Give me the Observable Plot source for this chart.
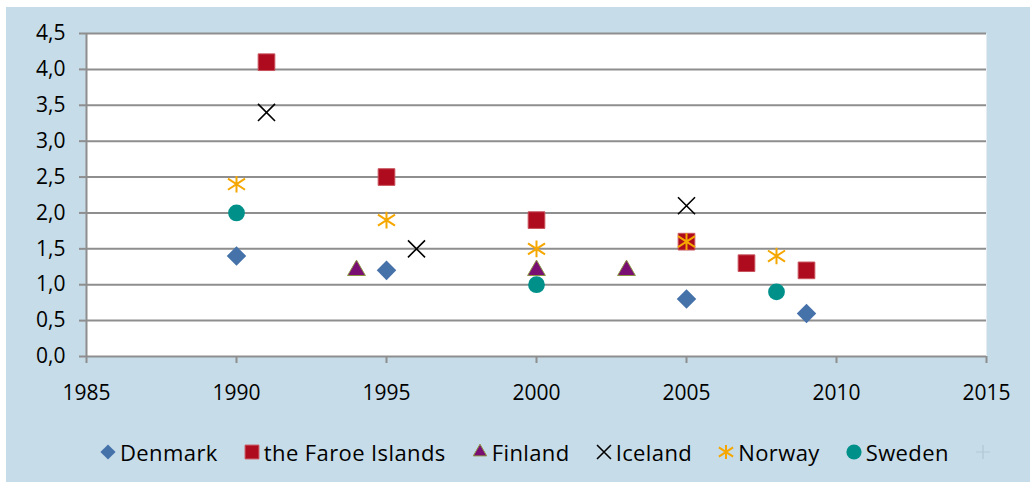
<!DOCTYPE html>
<html><head><meta charset="utf-8">
<script src="https://cdn.jsdelivr.net/npm/d3@7"></script>
<script src="https://cdn.jsdelivr.net/npm/@observablehq/plot@0.6"></script>
<style>
html,body{margin:0;padding:0;background:#fff;}
#box{position:absolute;left:6px;top:7px;width:1024px;height:475px;background:#c6dce8;font-family:"Open Sans",sans-serif;overflow:hidden;}
#chart{position:absolute;left:0;top:0;}
#legend{position:absolute;left:94px;top:431px;height:28px;display:flex;align-items:center;font-size:22px;letter-spacing:0.4px;color:#000;white-space:nowrap;}
#legend .item{display:flex;align-items:center;margin-right:26px;}
#legend svg{margin-right:4px;overflow:visible;}
</style></head>
<body>
<div id="box"><div id="chart"></div><div id="legend"></div></div>
<script>
// ---- data ----
const countries = ["Denmark", "the Faroe Islands", "Finland", "Iceland", "Norway", "Sweden"];
const denmarkYears = [1990, 1995, 2005, 2009];
const denmarkValues = [1.4, 1.2, 0.8, 0.6];
const faroeYears = [1991, 1995, 2000, 2005, 2007, 2009];
const faroeValues = [4.1, 2.5, 1.9, 1.6, 1.3, 1.2];
const finlandYears = [1994, 2000, 2003];
const finlandValues = [1.2, 1.2, 1.2];
const icelandYears = [1991, 1996, 2005];
const icelandValues = [3.4, 1.5, 2.1];
const norwayYears = [1990, 1995, 2000, 2005, 2008];
const norwayValues = [2.4, 1.9, 1.5, 1.6, 1.4];
const swedenYears = [1990, 2000, 2008];
const swedenValues = [2.0, 1.0, 0.9];
const xTicks = [1985, 1990, 1995, 2000, 2005, 2010, 2015];
const yTicks = [0, 0.5, 1, 1.5, 2, 2.5, 3, 3.5, 4, 4.5];

const toRows = (name, ys, vs) => ys.map((y, i) => ({country: name, year: y, value: vs[i]}));
const seriesData = [
  toRows(countries[0], denmarkYears, denmarkValues),
  toRows(countries[1], faroeYears, faroeValues),
  toRows(countries[2], finlandYears, finlandValues),
  toRows(countries[3], icelandYears, icelandValues),
  toRows(countries[4], norwayYears, norwayValues),
  toRows(countries[5], swedenYears, swedenValues)
];

// custom wide asterisk (vertical + two shallow diagonals)
const wideAsterisk = {
  draw(ctx, size) {
    const r = Math.sqrt(size / Math.PI);
    const v = r * 1.05, dx = r * 1.08, dy = r * 0.7;
    ctx.moveTo(0, -v); ctx.lineTo(0, v);
    ctx.moveTo(-dx, -dy); ctx.lineTo(dx, dy);
    ctx.moveTo(-dx, dy); ctx.lineTo(dx, -dy);
  }
};

const styles = [
  {symbol: "diamond2", fill: "#4672aa", stroke: "none", r: 8.8, sw: 0},
  {symbol: "square", fill: "#ae0b1e", stroke: "#c8525c", r: 9.4, sw: 1},
  {symbol: "triangle", fill: "#7a0f73", stroke: "#8b9440", r: 6.6, sw: 1},
  {symbol: "times", fill: "none", stroke: "#000", r: 7.8, sw: 1.6},
  {symbol: wideAsterisk, fill: "none", stroke: "#f5a700", r: 7.9, sw: 2},
  {symbol: "circle", fill: "#00908a", stroke: "none", r: 8.4, sw: 0}
];

const fmtY = d => d.toFixed(1).replace(".", ",");

const chart = Plot.plot({
  width: 1024,
  height: 410,
  marginLeft: 80,
  marginRight: 44,
  marginTop: 26,
  marginBottom: 61,
  style: {fontFamily: '"Open Sans", sans-serif', fontSize: "21px", color: "#000", background: "transparent", overflow: "visible"},
  x: {domain: [1985, 2015]},
  y: {domain: [0, 4.5]},
  marks: [
    Plot.frame({fill: "white", stroke: "none"}),
    Plot.ruleY(yTicks, {stroke: "#8e8e8e", strokeWidth: 2}),
    Plot.ruleX([1985], {stroke: "#8e8e8e", strokeWidth: 2}),
    Plot.axisY({ticks: yTicks, tickFormat: fmtY, tickSize: 7, tickPadding: 14, stroke: "#8e8e8e", strokeWidth: 2, fill: "#000", label: null}),
    Plot.axisX({ticks: xTicks, tickFormat: d => String(d), tickSize: 7, tickPadding: 22, stroke: "#8e8e8e", strokeWidth: 2, fill: "#000", label: null}),
    ...seriesData.map((rows, i) => Plot.dot(rows, {
      x: "year", y: "value",
      symbol: styles[i].symbol,
      r: styles[i].r,
      fill: styles[i].fill,
      stroke: styles[i].stroke,
      strokeWidth: styles[i].sw
    }))
  ]
});
document.getElementById("chart").appendChild(chart);

// ---- legend ----
const legend = d3.select("#legend");
const legendSizes = [6.8, 7.8, 5.0, 6.4, 6.6, 7.6];
countries.forEach((name, i) => {
  const st = styles[i];
  const item = legend.append("div").attr("class", "item");
  const s = item.append("svg").attr("width", 16).attr("height", 16).attr("viewBox", "-8 -8 16 16");
  const sym = typeof st.symbol === "string"
    ? {diamond2: d3.symbolDiamond2, square: d3.symbolSquare, triangle: d3.symbolTriangle, times: d3.symbolTimes, circle: d3.symbolCircle}[st.symbol]
    : st.symbol;
  s.append("path")
    .attr("d", d3.symbol(sym, Math.PI * legendSizes[i] ** 2)())
    .attr("fill", st.fill)
    .attr("stroke", st.stroke)
    .attr("stroke-width", st.sw);
  item.append("span").text(name);
});
// faint empty series marker
const extra = legend.append("div").attr("class", "item");
extra.append("svg").attr("width", 16).attr("height", 16).attr("viewBox", "-8 -8 16 16")
  .append("path").attr("d", "M-7,0H7M0,-7V7").attr("stroke", "#b3c7d5").attr("stroke-width", 1.2).attr("fill", "none");
</script>
</body></html>
